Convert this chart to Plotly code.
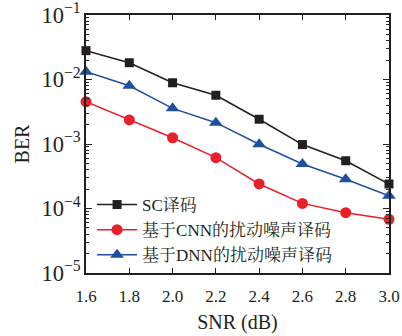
import plotly.graph_objects as go

snr = [1.6, 1.8, 2.0, 2.2, 2.4, 2.6, 2.8, 3.0]
ber_sc = [0.028, 0.0182, 0.0089, 0.0057, 0.00242, 0.00098, 0.00055, 0.00024]
ber_cnn = [0.00453, 0.00236, 0.00125, 0.000614, 0.00024, 0.00012, 0.000086, 0.000068]
ber_dnn = [0.0132, 0.0080, 0.00357, 0.00214, 0.00099, 0.00049, 0.000284, 0.000158]
names = ["SC译码", "基于CNN的扰动噪声译码", "基于DNN的扰动噪声译码"]
x_ticks = [1.6, 1.8, 2.0, 2.2, 2.4, 2.6, 2.8, 3.0]

font_fam = "Liberation Serif, Noto Serif CJK SC, Noto Sans CJK SC, serif"

fig = go.Figure()
fig.add_trace(go.Scatter(x=snr, y=ber_sc, name=names[0], mode="lines+markers",
                         line=dict(color="#231f20", width=1.5),
                         marker=dict(symbol="square", size=9, color="#231f20"),
                         cliponaxis=False))
fig.add_trace(go.Scatter(x=snr, y=ber_cnn, name=names[1], mode="lines+markers",
                         line=dict(color="#e8202a", width=1.5),
                         marker=dict(symbol="circle", size=11, color="#e8202a"),
                         cliponaxis=False))
fig.add_trace(go.Scatter(x=snr, y=ber_dnn, name=names[2], mode="lines+markers",
                         line=dict(color="#1f4fa0", width=1.5),
                         marker=dict(symbol="triangle-up", size=12, color="#1f4fa0"),
                         cliponaxis=False))

fig.update_layout(
    width=402, height=336,
    margin=dict(l=86, r=13, t=15, b=63),
    plot_bgcolor="white", paper_bgcolor="white",
    font=dict(family=font_fam, size=17, color="#231f20"),
    legend=dict(x=0.02, y=0.0, xanchor="left", yanchor="bottom",
                bgcolor="rgba(0,0,0,0)", font=dict(family=font_fam, size=17),
                tracegroupgap=0, itemwidth=40),
    showlegend=True,
)
fig.update_xaxes(range=[1.6, 3.0], tickvals=x_ticks, ticktext=[f"{v:.1f}" for v in x_ticks],
                 ticks="inside", ticklen=5, tickcolor="#231f20",
                 showline=True, linecolor="#231f20", linewidth=1.5, mirror="ticks",
                 showgrid=False, zeroline=False, ticklabeloverflow="allow",
                 ticklabelstandoff=7, automargin=False,
                 title=dict(text="SNR (dB)", standoff=10, font=dict(family=font_fam, size=20)),
                 tickfont=dict(family=font_fam, size=17))
fig.update_yaxes(type="log", range=[-5, -1], dtick=1, exponentformat="power",
                 ticks="inside", ticklen=6, tickcolor="#231f20",
                 minor=dict(ticks="inside", ticklen=3, tickcolor="#231f20", showgrid=False),
                 showline=True, linecolor="#231f20", linewidth=1.5, mirror="ticks",
                 showgrid=False, zeroline=False, automargin=False, ticklabeloverflow="allow",
                 title=dict(text="BER", standoff=6, font=dict(family=font_fam, size=20)),
                 tickfont=dict(family=font_fam, size=18))

fig.write_html("out.html", config={"displayModeBar": False},
               post_script="document.body.style.margin='0';document.body.style.overflow='hidden';")
